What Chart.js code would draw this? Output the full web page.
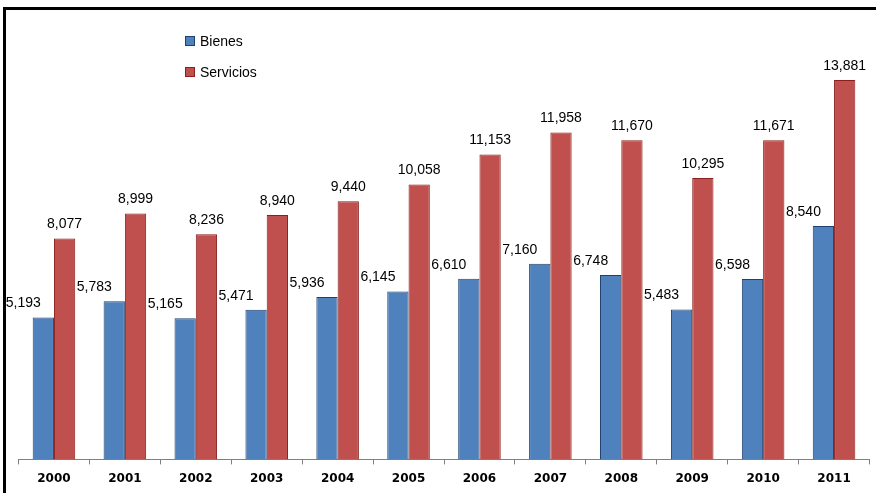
<!DOCTYPE html>
<html lang="es">
<head>
    <meta charset="UTF-8">
    <title>Bienes y Servicios 2000-2011</title>
    <script src="https://cdn.jsdelivr.net/npm/chart.js"></script>
    <style>
        body { margin: 0; padding: 0; background: #ffffff; }
        .wrap { position: relative; width: 876px; height: 493px; }
        /* marco negro arriba y a la izquierda */
        .frame {
            position: absolute; left: 3px; top: 7px; right: 0; bottom: 0;
            border-top: 3px solid #000; border-left: 3px solid #000;
            pointer-events: none;
        }
        canvas { position: absolute; left: 0; top: 0; }
    </style>
</head>
<body>
<div class="wrap">
    <canvas id="chart" width="876" height="493"></canvas>
    <div class="frame"></div>
</div>
<script>
    // Datos
    const years = ['2000', '2001', '2002', '2003', '2004', '2005', '2006', '2007', '2008', '2009', '2010', '2011'];
    const bienes = [5193, 5783, 5165, 5471, 5936, 6145, 6610, 7160, 6748, 5483, 6598, 8540];
    const servicios = [8077, 8999, 8236, 8940, 9440, 10058, 11153, 11958, 11670, 10295, 11671, 13881];
    const seriesNames = ['Bienes', 'Servicios'];

    // Etiquetas de valor encima de cada barra
    const valueLabels = {
        id: 'valueLabels',
        afterDatasetsDraw(chart) {
            const ctx = chart.ctx;
            ctx.save();
            ctx.font = '14px "Liberation Sans", Arial, sans-serif';
            ctx.fillStyle = '#000';
            ctx.textAlign = 'center';
            ctx.textBaseline = 'middle';
            chart.data.datasets.forEach((ds, i) => {
                chart.getDatasetMeta(i).data.forEach((bar, j) => {
                    const dx = i === 0 ? -20 : 0;
                    ctx.fillText(ds.data[j].toLocaleString('en-US'), bar.x + dx, bar.y - 14);
                });
            });
            ctx.restore();
        }
    };

    // Leyenda dentro del área del gráfico
    const innerLegend = {
        id: 'innerLegend',
        afterDraw(chart) {
            const ctx = chart.ctx;
            ctx.save();
            ctx.font = '14px "Liberation Sans", Arial, sans-serif';
            ctx.textBaseline = 'middle';
            chart.data.datasets.forEach((ds, i) => {
                const y = 41 + i * 31;
                ctx.fillStyle = ds.backgroundColor;
                ctx.fillRect(185, y - 5, 10, 10);
                ctx.strokeStyle = ds.borderColor;
                ctx.lineWidth = 1;
                ctx.strokeRect(185.5, y - 4.5, 9, 9);
                ctx.fillStyle = '#000';
                ctx.fillText(ds.label, 200, y + 1);
            });
            ctx.restore();
        }
    };

    new Chart(document.getElementById('chart').getContext('2d'), {
        type: 'bar',
        data: {
            labels: years,
            datasets: [
                { label: seriesNames[0], data: bienes, backgroundColor: '#4F81BD', borderColor: '#1F3F6E', borderWidth: 1 },
                { label: seriesNames[1], data: servicios, backgroundColor: '#C0504D', borderColor: '#8A1F1C', borderWidth: 1 }
            ]
        },
        options: {
            responsive: false,
            animation: false,
            layout: { padding: { left: 18.5, right: 6.5, top: 22, bottom: 0 } },
            datasets: { bar: { categoryPercentage: 0.6, barPercentage: 1.0 } },
            plugins: { legend: { display: false }, tooltip: { enabled: false } },
            scales: {
                y: { display: false, min: 0, max: 16000 },
                x: {
                    grid: { offset: true, drawOnChartArea: false, tickLength: 5, color: '#808080' },
                    border: { display: true, color: '#808080' },
                    ticks: { padding: 8, color: '#000', font: { family: '"DejaVu Sans", Verdana, sans-serif', size: 12, weight: 'bold', lineHeight: 1.05 } }
                }
            }
        },
        plugins: [valueLabels, innerLegend]
    });
</script>
</body>
</html>
